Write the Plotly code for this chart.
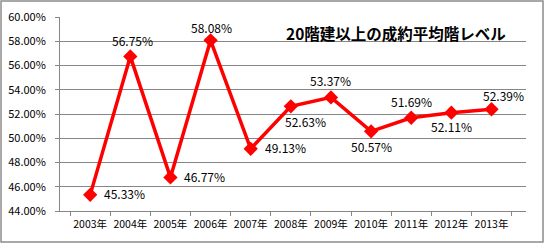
import plotly.graph_objects as go

years = ["2003年", "2004年", "2005年", "2006年", "2007年", "2008年",
         "2009年", "2010年", "2011年", "2012年", "2013年"]
values = [45.33, 56.75, 46.77, 58.08, 49.13, 52.63, 53.37, 50.57, 51.69, 52.11, 52.39]
title_text = "20階建以上の成約平均階レベル"

# label placement (style): (xanchor, yanchor, xshift, yshift)
label_pos = [
    ("left", "middle", 12, 1),
    ("center", "bottom", 2, 5),
    ("left", "middle", 12, 1),
    ("center", "bottom", 1, 2),
    ("left", "middle", 12, 1),
    ("center", "top", 15, -5),
    ("center", "bottom", 0, 6),
    ("center", "top", 0, -5),
    ("center", "bottom", 0, 6),
    ("center", "top", 0, -3),
    ("center", "bottom", 12, 3),
]

font = "Noto Sans CJK JP, Noto Sans, sans-serif"
yvals = [v / 100 for v in values]

fig = go.Figure()
fig.add_trace(go.Scatter(
    x=years, y=yvals, mode="lines+markers",
    line=dict(color="#FF0000", width=3.5),
    marker=dict(symbol="diamond", size=11, color="#FF0000"),
    cliponaxis=False, hoverinfo="skip",
))

for x, y, v, (xa, ya, xs, ys) in zip(years, yvals, values, label_pos):
    fig.add_annotation(x=x, y=y, text=f"{v:.2f}%", showarrow=False,
                       xanchor=xa, yanchor=ya, xshift=xs, yshift=ys,
                       font=dict(family=font, size=12, color="#000000"))

fig.add_annotation(xref="paper", yref="paper", x=0.72, y=0.92,
                   text=f"<b>{title_text}</b>", showarrow=False,
                   xanchor="center", yanchor="middle",
                   font=dict(family=font, size=15.5, color="#000000"))

# outer chart border
fig.add_shape(type="rect", xref="paper", yref="paper",
              x0=-0.1266, x1=1.0365, y0=-0.16, y1=1.0825,
              line=dict(color="#8C8C8C", width=1.5), layer="below")

fig.update_layout(
    width=545, height=244,
    margin=dict(l=60, r=19, t=17, b=33, autoexpand=False),
    paper_bgcolor="white", plot_bgcolor="white",
    showlegend=False,
    font=dict(family=font, size=11, color="#000000"),
    xaxis=dict(
        type="category", tickson="boundaries", ticks="outside", ticklen=4,
        tickcolor="#868686", showline=True, linecolor="#868686", linewidth=1,
        showgrid=False, tickfont=dict(size=10.5), tickangle=0,
        ticklabelstandoff=3, automargin=False, fixedrange=True,
    ),
    yaxis=dict(
        range=[0.44, 0.60], dtick=0.02, tickformat=".2%",
        ticks="outside", ticklen=4, tickcolor="#868686",
        showline=True, linecolor="#868686", linewidth=1,
        showgrid=True, gridcolor="#868686", gridwidth=1,
        zeroline=False, tickfont=dict(size=11), ticklabelstandoff=7,
        automargin=False, fixedrange=True,
    ),
)

fig.write_html("out.html")
